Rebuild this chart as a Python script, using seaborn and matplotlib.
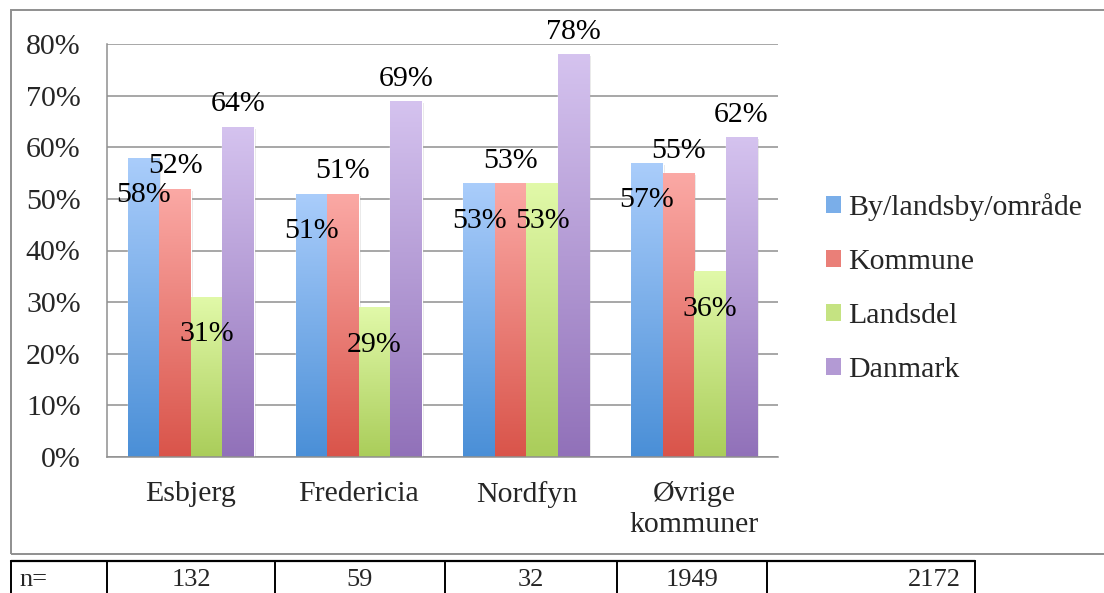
import numpy as np
import pandas as pd
import matplotlib
matplotlib.use("Agg")
import matplotlib.pyplot as plt
import seaborn as sns
from matplotlib.colors import LinearSegmentedColormap, to_rgb
from matplotlib.patches import Rectangle, Patch
from matplotlib.lines import Line2D

# data
categories = ["Esbjerg", "Fredericia", "Nordfyn", "Øvrige\nkommuner"]
series = ["By/landsby/område", "Kommune", "Landsdel", "Danmark"]
by_values = [58, 51, 53, 57]
kommune_values = [52, 51, 53, 55]
landsdel_values = [31, 29, 53, 36]
danmark_values = [64, 69, 78, 62]
n_labels = ["n=", "132", "59", "32", "1949", "2172"]

# (top, bottom) gradient colours per series
grad = {
    "By/landsby/område": ("#aacdfb", "#4a8fd7"),
    "Kommune": ("#fba9a5", "#d9544a"),
    "Landsdel": ("#e1f9a9", "#aacd5a"),
    "Danmark": ("#d5c3ef", "#9171b9"),
}

df = pd.DataFrame({
    "kategori": np.repeat(categories, 4),
    "serie": series * 4,
    "andel": [v for row in zip(by_values, kommune_values, landsdel_values, danmark_values) for v in row],
})
df["andel"] = df["andel"] / 100

sns.set_style("white")
plt.rcParams["font.family"] = ["Liberation Serif", "DejaVu Serif"]
FS = 21.5

W, H = 1104, 593
fig = plt.figure(figsize=(W / 100, H / 100), dpi=100)

def fx(px):
    return px / W

def fy(py):
    return 1 - py / H

ax = fig.add_axes([fx(107), fy(457), fx(778 - 107), (457 - 44) / H])

sns.barplot(data=df, x="kategori", y="andel", hue="serie", order=categories,
            hue_order=series, palette=[grad[s][1] for s in series],
            width=0.75, saturation=1, legend=False, ax=ax, errorbar=None)

ticks = np.arange(0, 0.81, 0.1)
ax.set_yticks(ticks)
ax.set_yticklabels([f"{int(round(t * 100))}%" for t in ticks])
ax.yaxis.grid(True, color="#8f8f8f", lw=1.1)
ax.set_axisbelow(True)
ax.set_xlabel("")
ax.set_ylabel("")
for side in ["top", "right"]:
    ax.spines[side].set_visible(False)
for side in ["left", "bottom"]:
    ax.spines[side].set_color("#8f8f8f")
    ax.spines[side].set_linewidth(1.1)

ax.set_xticks(np.arange(-0.5, 3.6, 1.0), minor=True)
ax.tick_params(axis="x", which="minor", length=8, width=1.1, color="#8f8f8f", direction="out")
ax.tick_params(axis="x", which="major", length=0, pad=17, labelsize=FS)
ax.tick_params(axis="y", which="major", length=6, width=1.1, color="#8f8f8f", pad=13, labelsize=FS)
for lab in ax.get_xticklabels():
    lab.set_linespacing(1.25)

# gradient fill, shadow and labels per bar
for s, cont in zip(series, ax.containers):
    top_c, bot_c = grad[s]
    cmap = LinearSegmentedColormap.from_list(s, [bot_c, top_c])
    inside = s in ("By/landsby/område", "Landsdel")
    for bar in cont:
        x0, y0 = bar.get_x(), bar.get_y()
        w, h = bar.get_width(), bar.get_height()
        shadow = Rectangle((x0 + 0.012, y0 - 0.004), w, h, transform=ax.transData,
                           facecolor="#000000", alpha=0.10, edgecolor="none", zorder=1.5)
        ax.add_patch(shadow)
        bar.set_zorder(2)
        img = ax.imshow(np.linspace(0, 1, 256).reshape(-1, 1), cmap=cmap, origin="lower",
                        extent=[x0, x0 + w, y0, y0 + h], aspect="auto", zorder=2.1)
        img.set_clip_path(bar)
        off = -27 if inside else 16
        ax.annotate(f"{h * 100:.0f}%", (x0 + w / 2, y0 + h), xytext=(0, off),
                    textcoords="offset points", ha="center", va="center",
                    fontsize=FS, color="black", zorder=5)
ax.set_xlim(-0.5, 3.5)
ax.set_ylim(0, 0.8)

# mid tone for legend squares
handles = [Patch(facecolor=(np.array(to_rgb(grad[s][0])) + np.array(to_rgb(grad[s][1]))) / 2,
                 edgecolor="none") for s in series]
fig.legend(handles, series, loc="center left", bbox_to_anchor=(fx(814), fy(288)),
           frameon=False, fontsize=FS, handlelength=0.5, handleheight=0.5,
           handletextpad=0.25, labelspacing=0.93, borderaxespad=0)

# chart frame
fig.add_artist(Rectangle((fx(11), fy(554)), fx(1200), (554 - 10) / H, transform=fig.transFigure,
                         facecolor="none", edgecolor="#8f8f8f", lw=1.4))

# n= table below chart
col_edges = [11, 107, 275, 445, 617, 767, 975]
fig.add_artist(Line2D([fx(11), fx(975)], [fy(561), fy(561)], transform=fig.transFigure,
                      color="black", lw=1.6))
for xe in col_edges:
    fig.add_artist(Line2D([fx(xe), fx(xe)], [fy(561), fy(600)], transform=fig.transFigure,
                          color="black", lw=1.4))
for i, lab in enumerate(n_labels):
    left, right = col_edges[i], col_edges[i + 1]
    if i == 0:
        fig.text(fx(left + 8), fy(580), lab, ha="left", va="center", fontsize=19)
    elif i == len(n_labels) - 1:
        fig.text(fx(right - 14), fy(580), lab, ha="right", va="center", fontsize=19)
    else:
        fig.text(fx((left + right) / 2), fy(580), lab, ha="center", va="center", fontsize=19)

fig.savefig("out.png", dpi=100)
